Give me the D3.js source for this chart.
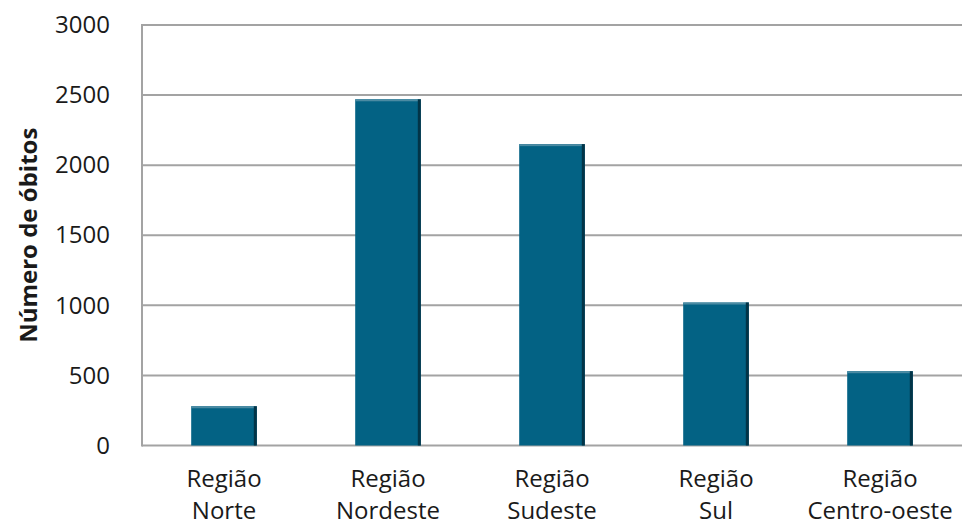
<!DOCTYPE html>
<html>
<head>
    <script src="https://cdnjs.cloudflare.com/ajax/libs/d3/7.8.5/d3.min.js"></script>
    <style>
        body { margin: 0; background: #fff; }
        .tick text { font-family: "Open Sans", "Noto Sans", sans-serif; font-size: 24px; fill: #1a1a1a; }
        .grid line { stroke: #a3a3a3; stroke-width: 2px; }
    </style>
</head>
<body>
    <div id="chart"></div>
    <script>
        // Data
        const regions = ["Região Norte", "Região Nordeste", "Região Sudeste", "Região Sul", "Região Centro-oeste"];
        const deaths = [280, 2470, 2150, 1020, 530];
        const yTicks = [0, 500, 1000, 1500, 2000, 2500, 3000];

        const width = 962;
        const height = 526;
        const margin = { top: 25, right: 0, bottom: 80, left: 142 };

        const svg = d3.select("#chart")
            .append("svg")
            .attr("width", width)
            .attr("height", height);

        const x = d3.scaleBand()
            .domain(regions)
            .range([margin.left, width - margin.right])
            .paddingInner(0.6)
            .paddingOuter(0.3);

        const y = d3.scaleLinear()
            .domain([0, 3000])
            .range([height - margin.bottom - 0.5, margin.top]);

        // gridlines
        svg.append("g")
            .attr("class", "grid")
            .selectAll("line")
            .data(yTicks)
            .join("line")
            .attr("x1", margin.left)
            .attr("x2", width)
            .attr("y1", d => y(d))
            .attr("y2", d => y(d));

        svg.append("line")
            .attr("x1", margin.left)
            .attr("x2", margin.left)
            .attr("y1", y(3000) - 1)
            .attr("y2", y(0) + 1)
            .attr("stroke", "#a3a3a3")
            .attr("stroke-width", 2);

        // y axis labels
        const yAxis = svg.append("g")
            .attr("transform", `translate(${margin.left},0)`)
            .call(d3.axisLeft(y).tickValues(yTicks).tickFormat(d3.format("d")).tickSize(0).tickPadding(32));
        yAxis.select(".domain").remove();

        // bars
        const bars = svg.append("g")
            .selectAll("g")
            .data(regions)
            .join("g");

        bars.append("rect")
            .attr("x", d => x(d))
            .attr("y", (d, i) => y(deaths[i]))
            .attr("width", x.bandwidth())
            .attr("height", (d, i) => y(0) - y(deaths[i]))
            .attr("fill", "#036284");

        // lighter top edge
        bars.append("rect")
            .attr("x", d => x(d))
            .attr("y", (d, i) => y(deaths[i]))
            .attr("width", x.bandwidth())
            .attr("height", 2)
            .attr("fill", "#4b8ba3");

        // darker right edge
        bars.append("rect")
            .attr("x", d => x(d) + x.bandwidth() - 3)
            .attr("y", (d, i) => y(deaths[i]))
            .attr("width", 3)
            .attr("height", (d, i) => y(0) - y(deaths[i]))
            .attr("fill", "#023447");

        // x labels (two lines)
        const xLabels = svg.append("g")
            .selectAll("text")
            .data(regions)
            .join("text")
            .attr("x", d => x(d) + x.bandwidth() / 2)
            .attr("y", 487)
            .attr("text-anchor", "middle")
            .style("font-family", "'Open Sans', 'Noto Sans', sans-serif")
            .style("font-size", "24px")
            .style("fill", "#1a1a1a");

        xLabels.append("tspan")
            .attr("x", d => x(d) + x.bandwidth() / 2)
            .text(d => d.split(" ")[0]);
        xLabels.append("tspan")
            .attr("x", d => x(d) + x.bandwidth() / 2)
            .attr("dy", 32)
            .text(d => d.split(" ").slice(1).join(" "));

        // y axis title
        svg.append("text")
            .attr("transform", `translate(37,${(margin.top + y(0)) / 2}) rotate(-90)`)
            .attr("text-anchor", "middle")
            .style("font-family", "'Open Sans', 'Noto Sans', sans-serif")
            .style("font-size", "24px")
            .style("font-weight", "bold")
            .style("fill", "#1a1a1a")
            .text("Número de óbitos");
    </script>
</body>
</html>
